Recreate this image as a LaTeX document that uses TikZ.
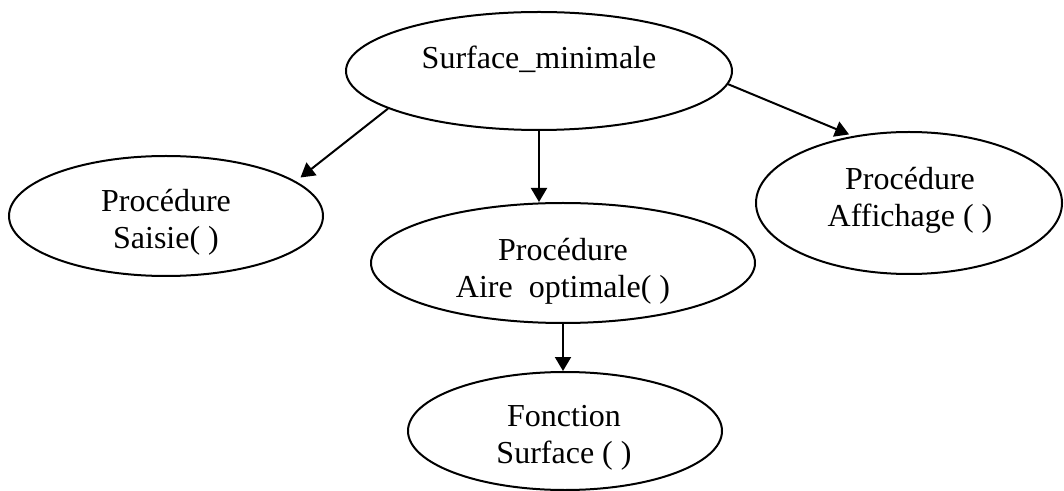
\documentclass[tikz,border=0pt]{standalone}
\usepackage{fontspec}
\setmainfont{Liberation Serif}
\usetikzlibrary{shapes.geometric, arrows.meta}

\begin{document}
\begin{tikzpicture}[x=0.5pt, y=-0.5pt,
    bulle/.style={draw, ellipse, line width=1pt, inner sep=0pt},
    nom/.style={align=center, inner sep=0pt, font=\fontsize{16}{18.5}\selectfont},
    fleche/.style={line width=1pt, -{Triangle[length=7pt, width=8pt]}}]
  \useasboundingbox (0,0) rectangle (1064,491);
  % les modules
  \node[bulle, minimum width=193pt, minimum height=59pt] (surfmin) at (539,71) {};
  \node[bulle, minimum width=157pt, minimum height=60pt] (saisie) at (166,216) {};
  \node[bulle, minimum width=192pt, minimum height=60pt] (aire) at (563,263) {};
  \node[bulle, minimum width=153pt, minimum height=71pt] (affichage) at (909,203) {};
  \node[bulle, minimum width=157pt, minimum height=59pt] (surf) at (565,431) {};
  % les textes
  \node[nom] (surfmin-txt) at (539,59) {Surface\_minimale};
  \node[nom] (saisie-txt) at (166,222) {Procédure\\Saisie( )};
  \node[nom] (aire-txt) at (563,271) {Procédure\\Aire~ optimale( )};
  \node[nom] (affichage-txt) at (910,200) {Procédure\\Affichage ( )};
  \node[nom] (surf-txt) at (564,438) {Fonction\\Surface ( )};
  % les appels
  \draw[fleche, shorten >=3pt] (surfmin.194) -- (saisie.15);
  \draw[fleche] (surfmin.south) -- (surfmin.south |- aire.north);
  \draw[fleche, shorten >=2pt] (surfmin.-4) -- (affichage.130);
  \draw[fleche] (aire.south) -- (aire.south |- surf.north);
\end{tikzpicture}
\end{document}
